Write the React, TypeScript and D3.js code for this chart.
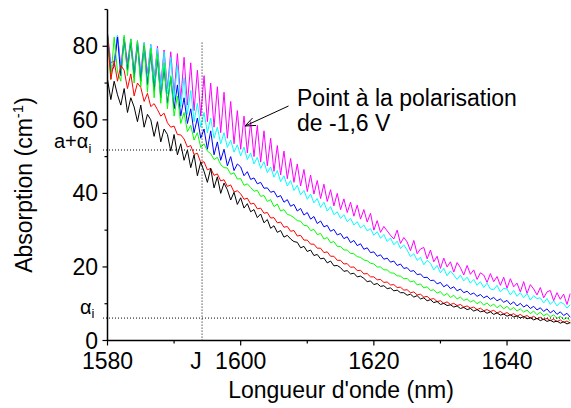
import React from 'react';
import * as d3 from 'd3';

// ---- Data ----
const START_NM = 1580;
const STEP_NM = 0.5;

const X_MAJOR = [1580, 1600, 1620, 1640];
const X_MINOR = [1590, 1610, 1630];
const Y_MAJOR = [0, 20, 40, 60, 80];
const Y_MINOR = [10, 30, 50, 70, 90];

const J_NM = 1594.2;
const J_TOP = 81;
const A_ALPHA_LEVEL = 51.8;
const ALPHA_LEVEL = 6.1;

const black = [
  71.0, 65.5, 70.5, 66.8, 64.0, 68.5, 62.0, 66.0, 63.5, 59.5,
  64.0, 58.0, 61.5, 60.0, 55.5, 59.5, 54.0, 57.5, 56.0, 51.5,
  56.0, 50.5, 53.5, 49.0, 51.8, 47.0, 50.5, 44.8, 48.5, 46.0,
  43.0, 46.8, 41.5, 44.5, 40.0, 42.8, 41.0, 38.2, 40.3, 37.0,
  38.8, 36.0, 37.2, 35.0, 35.6, 33.4, 34.4, 32.0, 32.9, 30.5,
  31.2, 29.4, 29.9, 28.1, 28.6, 27.6, 26.9, 26.7, 25.2, 25.6,
  24.2, 24.6, 23.1, 23.4, 22.2, 22.4, 21.1, 21.6, 20.3, 20.4,
  19.8, 18.8, 19.0, 18.1, 18.3, 17.3, 17.5, 16.9, 16.0, 16.2,
  15.2, 15.5, 14.7, 14.9, 14.1, 14.3, 13.5, 13.7, 13.0, 13.0,
  12.3, 12.6, 11.8, 12.2, 11.3, 11.6, 10.8, 11.1, 10.3, 10.6,
  9.8, 10.1, 9.5, 9.7, 9.1, 9.4, 8.7, 9.0, 8.4, 8.7,
  8.0, 8.4, 7.8, 8.0, 7.4, 7.8, 7.1, 7.5, 6.9, 7.2,
  6.6, 7.0, 6.4, 6.7, 6.1, 6.5, 5.9, 6.2, 5.6, 6.0,
  5.4, 5.8, 5.2, 5.5, 5.0, 5.3, 4.7, 5.1, 4.5, 4.9,
  4.4,
];

const red = [
  83.0, 71.0, 76.0, 70.5, 74.8, 73.5, 68.5, 72.5, 66.5, 70.0,
  68.8, 65.0, 67.2, 63.6, 64.4, 62.8, 61.0, 61.8, 59.2, 58.0,
  58.3, 56.0, 55.9, 54.8, 52.6, 53.0, 50.6, 50.9, 48.4, 48.6,
  46.4, 46.8, 44.9, 45.3, 43.4, 43.7, 41.9, 42.3, 40.4, 40.7,
  39.9, 38.4, 38.7, 37.1, 37.3, 35.8, 36.0, 34.6, 34.8, 33.3,
  33.4, 32.0, 32.2, 30.8, 31.0, 29.7, 29.9, 28.4, 28.6, 27.3,
  27.3, 26.2, 26.2, 25.1, 25.1, 23.9, 24.1, 22.9, 22.9, 21.8,
  21.8, 20.8, 20.9, 19.9, 20.0, 19.0, 19.1, 18.1, 18.2, 17.3,
  17.3, 16.5, 16.6, 15.8, 15.9, 15.1, 15.2, 14.4, 14.5, 13.7,
  13.8, 13.0, 13.2, 12.4, 12.6, 11.8, 12.0, 11.2, 11.4, 10.6,
  10.8, 10.1, 10.5, 9.8, 10.1, 9.5, 9.8, 9.1, 9.4, 8.8,
  9.1, 8.4, 8.8, 8.1, 8.4, 7.9, 8.2, 7.5, 7.9, 7.2,
  7.6, 6.9, 7.3, 6.6, 7.1, 6.4, 6.8, 6.1, 6.6, 5.9,
  6.3, 5.7, 6.0, 5.4, 5.8, 5.1, 5.6, 4.9, 5.3, 4.7,
  5.0,
];

const green = [
  83.5, 71.0, 82.5, 73.0, 70.5, 83.0, 72.0, 82.0, 70.0, 81.5,
  69.0, 80.5, 67.5, 79.5, 66.0, 78.0, 64.5, 75.5, 63.0, 72.0,
  61.0, 66.5, 59.0, 62.0, 56.8, 58.5, 54.5, 56.5, 52.5, 53.5,
  51.5, 50.8, 49.2, 49.8, 47.8, 47.0, 46.9, 45.2, 45.6, 43.9,
  44.0, 42.2, 42.6, 41.6, 40.6, 40.8, 39.2, 39.4, 37.8, 38.3,
  36.4, 37.1, 35.2, 35.6, 34.3, 34.0, 33.4, 32.6, 32.4, 31.3,
  31.2, 29.9, 30.2, 28.8, 29.1, 27.6, 28.0, 26.6, 26.9, 25.6,
  25.6, 24.6, 24.6, 23.7, 23.6, 22.8, 22.6, 21.9, 21.7, 21.0,
  20.8, 20.0, 20.0, 19.2, 19.2, 18.4, 18.3, 17.6, 17.5, 16.8,
  16.9, 15.9, 16.2, 15.1, 15.4, 14.3, 14.6, 13.6, 13.8, 12.9,
  13.3, 12.2, 12.8, 11.7, 12.3, 11.3, 11.8, 10.9, 11.3, 10.5,
  10.9, 10.0, 10.6, 9.6, 10.2, 9.3, 9.9, 8.9, 9.6, 8.6,
  9.3, 8.3, 9.0, 8.0, 8.6, 7.7, 8.3, 7.3, 8.0, 7.0,
  7.7, 6.7, 7.3, 6.4, 7.0, 6.0, 6.6, 5.7, 6.2, 5.3,
  5.7,
];

const blue = [
  83.0, 73.0, 74.5, 82.5, 72.0, 82.0, 73.5, 81.0, 71.5, 80.5,
  70.5, 80.0, 69.5, 78.0, 68.0, 76.5, 66.0, 74.0, 64.5, 71.5,
  63.0, 69.5, 61.0, 66.0, 59.0, 63.0, 56.5, 60.5, 55.0, 57.5,
  52.0, 57.0, 50.5, 54.0, 49.0, 52.0, 47.5, 50.0, 46.2, 48.0,
  47.2, 44.8, 45.9, 43.8, 44.2, 42.6, 43.0, 41.4, 41.5, 40.3,
  40.6, 39.0, 39.4, 37.6, 38.3, 36.5, 37.0, 35.2, 35.9, 34.1,
  34.8, 33.0, 33.7, 31.8, 32.5, 30.9, 31.3, 29.7, 30.2, 28.7,
  29.1, 27.7, 28.2, 26.6, 27.2, 25.8, 26.3, 24.8, 25.2, 23.9,
  24.1, 22.9, 23.3, 22.1, 22.4, 21.3, 21.6, 20.4, 20.8, 19.6,
  19.8, 18.8, 19.0, 17.9, 18.1, 17.1, 17.2, 16.3, 16.4, 15.4,
  15.8, 14.6, 15.2, 14.1, 14.6, 13.5, 14.0, 13.0, 13.4, 12.5,
  12.9, 12.0, 12.5, 11.6, 12.1, 11.2, 11.7, 10.8, 11.3, 10.4,
  10.9, 9.8, 10.5, 9.4, 10.1, 9.1, 9.7, 8.7, 9.3, 8.3,
  8.9, 7.9, 8.6, 7.5, 8.2, 7.1, 7.8, 6.8, 7.4, 6.3,
  6.8,
];

const cyan = [
  83.5, 74.5, 75.0, 83.0, 73.5, 82.5, 74.0, 82.0, 72.5, 81.5,
  72.0, 81.0, 71.0, 80.5, 70.0, 79.5, 68.5, 78.5, 67.0, 77.0,
  65.5, 75.0, 63.5, 71.5, 61.5, 68.0, 59.5, 64.5, 58.0, 62.0,
  56.5, 60.5, 55.0, 58.0, 53.5, 56.5, 52.5, 54.5, 51.2, 53.2,
  50.2, 52.6, 49.2, 51.0, 48.0, 49.8, 46.8, 48.6, 45.6, 47.2,
  44.4, 46.2, 43.2, 44.8, 42.0, 43.5, 40.8, 42.2, 39.6, 40.8,
  38.4, 39.8, 37.4, 38.6, 36.2, 37.6, 35.2, 36.4, 34.2, 35.0,
  33.2, 34.2, 32.3, 33.2, 31.4, 32.3, 30.6, 31.4, 29.8, 30.4,
  28.6, 29.6, 27.8, 28.8, 26.9, 27.9, 26.0, 27.0, 25.0, 26.0,
  24.6, 22.8, 23.6, 21.8, 22.6, 20.6, 21.8, 21.0, 19.2, 20.4,
  18.4, 19.6, 17.6, 18.9, 17.8, 16.6, 17.8, 16.2, 17.2, 15.6,
  16.6, 15.0, 16.0, 14.4, 15.6, 14.0, 13.8, 15.0, 13.2, 14.2,
  14.0, 12.4, 13.6, 12.0, 13.0, 11.6, 12.8, 11.0, 12.2, 11.4,
  11.6, 10.2, 11.4, 9.8, 10.8, 9.4, 10.4, 10.0, 8.8, 9.8,
  9.2,
];

const magenta = [
  83.5, 75.5, 76.0, 83.0, 74.5, 82.5, 75.5, 82.0, 73.5, 81.5,
  73.0, 81.0, 72.5, 80.5, 71.0, 80.0, 69.5, 79.0, 68.5, 78.5,
  67.0, 78.0, 65.5, 77.0, 64.0, 75.5, 62.5, 73.5, 61.0, 72.0,
  59.5, 70.0, 58.0, 69.0, 56.5, 67.5, 55.0, 65.0, 53.5, 62.5,
  52.0, 61.0, 51.0, 59.5, 50.0, 58.5, 48.5, 57.0, 47.5, 55.0,
  46.0, 53.0, 45.0, 51.5, 44.0, 49.5, 43.0, 48.0, 42.0, 46.5,
  40.5, 45.0, 39.8, 43.5, 38.6, 42.5, 37.8, 41.0, 36.6, 40.0,
  35.6, 38.5, 34.8, 37.6, 33.8, 36.8, 33.0, 35.6, 32.2, 34.6,
  30.0, 32.6, 29.4, 31.0, 29.8, 28.6, 27.6, 30.0, 26.4, 28.0,
  26.8, 24.4, 27.2, 23.6, 24.9, 25.3, 22.2, 24.6, 21.4, 22.9,
  19.6, 22.4, 20.0, 21.4, 18.6, 21.2, 19.8, 17.8, 20.4, 18.0,
  19.2, 16.6, 18.4, 17.8, 15.8, 18.2, 16.0, 17.4, 15.0, 17.2,
  14.2, 16.8, 14.6, 15.6, 13.2, 16.0, 12.8, 15.2, 14.0, 12.4,
  14.4, 11.6, 13.2, 13.6, 10.8, 13.0, 11.2, 12.6, 9.8, 12.8,
  10.6,
];

const SERIES = [
  { name: 'magenta', values: magenta, color: '#ff00ff' },
  { name: 'cyan', values: cyan, color: '#00ffff' },
  { name: 'blue', values: blue, color: '#0000ff' },
  { name: 'green', values: green, color: '#00ff00' },
  { name: 'red', values: red, color: '#ff0000' },
  { name: 'black', values: black, color: '#000000' },
];

const FONT = '"Liberation Sans", Arial, Helvetica, sans-serif';
const FS = 23;

export default function App() {
  const W = 571;
  const H = 408;
  const x = d3.scaleLinear().domain([1580, 1649.5]).range([107.5, 570.3]);
  const y = d3.scaleLinear().domain([0, 90]).range([340.5, 9.5]);
  const x0 = x.range()[0];
  const x1 = x.range()[1];
  const y0 = y.range()[0];
  const yTop = y.range()[1];

  const line = d3
    .line<number>()
    .x((_, i) => x(START_NM + i * STEP_NM))
    .y((d) => y(d));

  const jx = x(J_NM);
  const tipX = 245, tipY = 126, tailX = 288.5, tailY = 106;
  const ang = Math.atan2(tipY - tailY, tipX - tailX);
  const headLen = 11;
  const headA = 0.38;
  const h1 = [tipX - headLen * Math.cos(ang - headA), tipY - headLen * Math.sin(ang - headA)];
  const h2 = [tipX - headLen * Math.cos(ang + headA), tipY - headLen * Math.sin(ang + headA)];

  return (
    <svg
      width={W}
      height={H}
      style={{ position: 'absolute', left: 0, top: 0, background: '#fff' }}
      fontFamily={FONT}
    >
      <defs>
        <clipPath id="plotClip">
          <rect x={x0} y={0} width={x1 - x0} height={y0} />
        </clipPath>
      </defs>
      <rect x={0} y={0} width={W} height={H} fill="#fff" />

      {/* series */}
      <g clipPath="url(#plotClip)">
        {SERIES.map((s) => (
          <path key={s.name} d={line(s.values) || ''} fill="none" stroke={s.color} strokeWidth={1} strokeLinejoin="round" />
        ))}
      </g>

      {/* reference dotted lines */}
      <line x1={103} x2={jx} y1={y(A_ALPHA_LEVEL)} y2={y(A_ALPHA_LEVEL)} stroke="#000" strokeWidth={1} strokeDasharray="1,2" />
      <line x1={103} x2={x1} y1={y(ALPHA_LEVEL)} y2={y(ALPHA_LEVEL)} stroke="#000" strokeWidth={1} strokeDasharray="1,2" />
      <line x1={jx} x2={jx} y1={y(J_TOP)} y2={y0} stroke="#000" strokeWidth={1} strokeDasharray="1,2" />

      {/* axes */}
      <line x1={x0} x2={x0} y1={yTop} y2={y0 + 0.5} stroke="#000" strokeWidth={1.5} />
      <line x1={x0 - 0.5} x2={x1} y1={y0} y2={y0} stroke="#000" strokeWidth={1.5} />
      {Y_MAJOR.map((v) => (
        <g key={'ym' + v}>
          <line x1={x0 - 5} x2={x0} y1={y(v)} y2={y(v)} stroke="#000" strokeWidth={1.2} />
          <text x={98} y={y(v) + 8} textAnchor="end" fontSize={FS}>{v}</text>
        </g>
      ))}
      {Y_MINOR.map((v) => (
        <line key={'yn' + v} x1={x0 - 3} x2={x0} y1={y(v)} y2={y(v)} stroke="#000" strokeWidth={1.2} />
      ))}
      {X_MAJOR.map((v) => (
        <g key={'xm' + v}>
          <line x1={x(v)} x2={x(v)} y1={y0} y2={y0 + 5} stroke="#000" strokeWidth={1.2} />
          <text x={x(v)} y={369} textAnchor="middle" fontSize={FS}>{v}</text>
        </g>
      ))}
      {X_MINOR.map((v) => (
        <line key={'xn' + v} x1={x(v)} x2={x(v)} y1={y0} y2={y0 + 3} stroke="#000" strokeWidth={1.2} />
      ))}
      <text x={jx - 6} y={369} textAnchor="middle" fontSize={FS}>J</text>

      {/* axis titles */}
      <text x={341} y={398} textAnchor="middle" fontSize={FS}>Longueur d'onde (nm)</text>
      <text transform="translate(32,185) rotate(-90)" textAnchor="middle" fontSize={FS}>
        Absorption (cm<tspan fontSize={15} dy={-9}>-1</tspan><tspan dy={9}>)</tspan>
      </text>

      {/* level labels */}
      <text x={54} y={148} fontSize={20}>
        a+α<tspan fontSize={13} dy={5}>i</tspan>
      </text>
      <text x={80} y={314} fontSize={20}>
        α<tspan fontSize={13} dy={4}>i</tspan>
      </text>

      {/* annotation */}
      <text x={297} y={106} fontSize={FS}>Point à la polarisation</text>
      <text x={297} y={131} fontSize={FS}>de -1,6 V</text>
      <line x1={tailX} y1={tailY} x2={tipX} y2={tipY} stroke="#000" strokeWidth={1} />
      <polyline points={`${h1[0]},${h1[1]} ${tipX},${tipY} ${h2[0]},${h2[1]}`} fill="none" stroke="#000" strokeWidth={1} />
    </svg>
  );
}
